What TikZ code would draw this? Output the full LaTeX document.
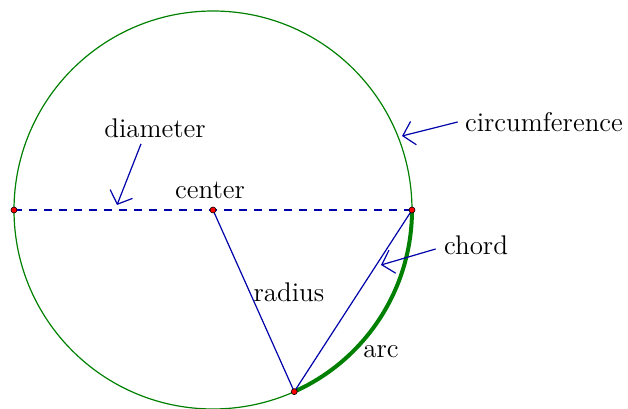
\documentclass[tikz,border=0pt]{standalone}
\usetikzlibrary{arrows.meta,calc}
\definecolor{navy}{RGB}{0,0,170}
\definecolor{circgreen}{RGB}{0,128,0}
\tikzset{
	lbl/.style={font=\fontsize{13.5}{15}\selectfont,inner sep=0pt},
	ptr/.style={navy,line width=0.6pt,-{Straight Barb[length=5.5pt,width=12pt]}},
	dot/.style={circle,draw=black,fill=red,line width=0.3pt,inner sep=0pt,minimum size=3pt}
}
\begin{document}
\begin{tikzpicture}[x=0.5pt,y=0.5pt]
	\useasboundingbox (0,0) rectangle (628,408);
	\coordinate (c) at (213,198);
	\coordinate (l) at (14,198);
	\coordinate (r) at (412,198);
	\coordinate (b) at ($(c)+(-65.9:199)$);
	\draw[circgreen,line width=0.6pt] (c) circle (199);
	\draw[circgreen,line width=2pt] (b) arc (-65.9:0:199);
	\draw[navy,line width=0.6pt,dash pattern=on 4pt off 3.5pt] (l) -- (r);
	\draw[navy,line width=0.6pt] (c) -- (b) -- (r);
	\node[dot] (lpt) at (l) {};
	\node[dot] (cpt) at (c) {};
	\node[dot] (rpt) at (r) {};
	\node[dot] (bpt) at (b) {};
	% labels
	\node[lbl] (diameter) at (155,280) {diameter};
	\node[lbl] (center) at (210,218) {center};
	\node[lbl] (circum) at (544,286) {circumference};
	\node[lbl] (chord) at (476,163) {chord};
	\node[lbl] (radius) at (289,116) {radius};
	\node[lbl] (arc) at (381,56) {arc};
	% pointers
	\coordinate (diatip) at (117,203);
	\coordinate (circtip) at (402,272);
	\coordinate (chordtip) at (381,143);
	\draw[ptr] ([xshift=-7pt,yshift=-3pt]diameter.south) -- (diatip);
	\draw[ptr] ([xshift=-3.5pt]circum.west) -- (circtip);
	\draw[ptr] ([xshift=-4pt,yshift=-2pt]chord.west) -- (chordtip);
\end{tikzpicture}
\end{document}
